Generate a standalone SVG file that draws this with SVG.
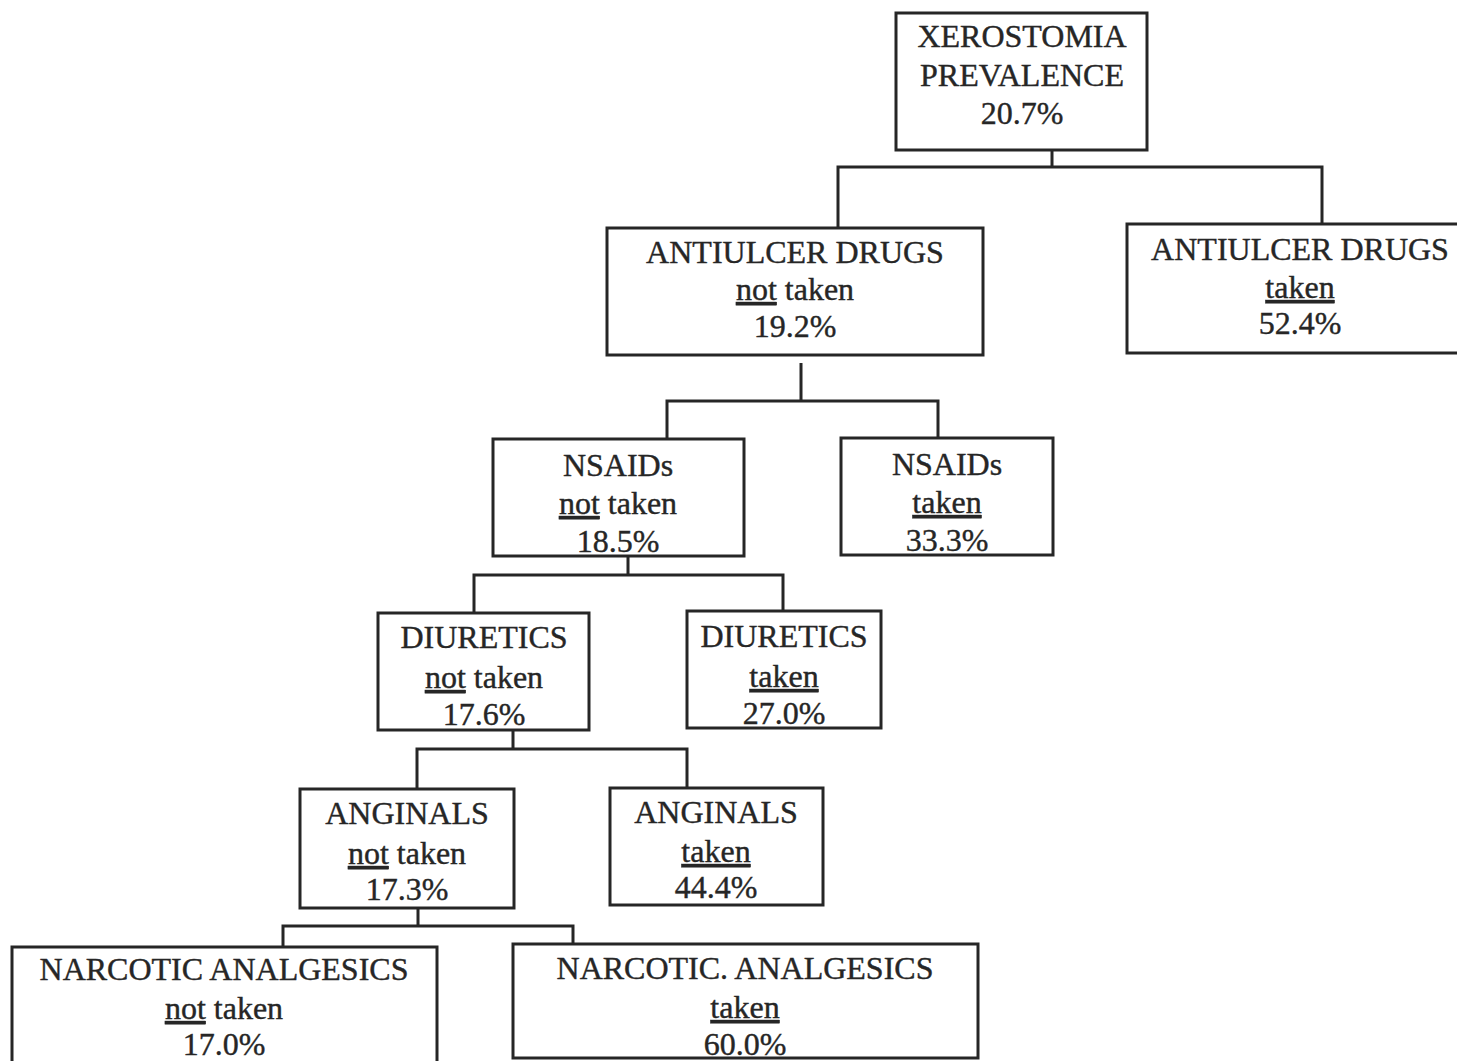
<svg xmlns="http://www.w3.org/2000/svg" width="1457" height="1061" viewBox="0 0 1457 1061">
  <style>
    .box { fill: #ffffff; stroke: #262626; stroke-width: 3; }
    .wire { fill: none; stroke: #262626; stroke-width: 3; stroke-linejoin: miter; }
    text { font-family: "Liberation Serif", "Times New Roman", serif; font-size: 32px; fill: #262626; stroke: #262626; stroke-width: 0.4; text-anchor: middle; }
    .u { text-decoration: underline; }
  </style>
  <rect width="1457" height="1061" fill="#ffffff"/>

  <!-- tree connectors -->
  <g id="connectors">
    <path class="wire" d="M1052,150 V167 M838,228 V167 H1322 V224"/>
    <path class="wire" d="M801,363 V401 M667,439 V401 H938 V438"/>
    <path class="wire" d="M628,556 V575 M474,613 V575 H783 V611"/>
    <path class="wire" d="M513,730 V749 M417,789 V749 H687 V788"/>
    <path class="wire" d="M418,908 V926 M283,947 V926 H573 V944"/>
  </g>

  <!-- root -->
  <g id="root">
    <rect class="box" x="896" y="13" width="251" height="137"/>
    <text x="1022" y="47">XEROSTOMIA</text>
    <text x="1022" y="86">PREVALENCE</text>
    <text x="1022" y="124">20.7%</text>
  </g>

  <!-- level 1 -->
  <g id="antiulcer-not-taken">
    <rect class="box" x="607" y="228" width="376" height="127"/>
    <text x="795" y="263">ANTIULCER DRUGS</text>
    <text x="795" y="300"><tspan class="u">not</tspan> taken</text>
    <text x="795" y="337">19.2%</text>
  </g>
  <g id="antiulcer-taken">
    <rect class="box" x="1127" y="224" width="340" height="129"/>
    <text x="1300" y="260">ANTIULCER DRUGS</text>
    <text x="1300" y="298"><tspan class="u">taken</tspan></text>
    <text x="1300" y="334">52.4%</text>
  </g>

  <!-- level 2 -->
  <g id="nsaids-not-taken">
    <rect class="box" x="493" y="439" width="251" height="117"/>
    <text x="618" y="476">NSAIDs</text>
    <text x="618" y="514"><tspan class="u">not</tspan> taken</text>
    <text x="618" y="552">18.5%</text>
  </g>
  <g id="nsaids-taken">
    <rect class="box" x="841" y="438" width="212" height="117"/>
    <text x="947" y="475">NSAIDs</text>
    <text x="947" y="513"><tspan class="u">taken</tspan></text>
    <text x="947" y="551">33.3%</text>
  </g>

  <!-- level 3 -->
  <g id="diuretics-not-taken">
    <rect class="box" x="378" y="613" width="211" height="117"/>
    <text x="484" y="648">DIURETICS</text>
    <text x="484" y="688"><tspan class="u">not</tspan> taken</text>
    <text x="484" y="725">17.6%</text>
  </g>
  <g id="diuretics-taken">
    <rect class="box" x="687" y="611" width="194" height="117"/>
    <text x="784" y="647">DIURETICS</text>
    <text x="784" y="687"><tspan class="u">taken</tspan></text>
    <text x="784" y="724">27.0%</text>
  </g>

  <!-- level 4 -->
  <g id="anginals-not-taken">
    <rect class="box" x="300" y="789" width="214" height="119"/>
    <text x="407" y="824">ANGINALS</text>
    <text x="407" y="864"><tspan class="u">not</tspan> taken</text>
    <text x="407" y="900">17.3%</text>
  </g>
  <g id="anginals-taken">
    <rect class="box" x="610" y="788" width="213" height="117"/>
    <text x="716" y="823">ANGINALS</text>
    <text x="716" y="862"><tspan class="u">taken</tspan></text>
    <text x="716" y="898">44.4%</text>
  </g>

  <!-- level 5 -->
  <g id="narcotic-not-taken">
    <rect class="box" x="12" y="947" width="425" height="130"/>
    <text x="224" y="980">NARCOTIC ANALGESICS</text>
    <text x="224" y="1019"><tspan class="u">not</tspan> taken</text>
    <text x="224" y="1055">17.0%</text>
  </g>
  <g id="narcotic-taken">
    <rect class="box" x="513" y="944" width="465" height="114"/>
    <text x="745" y="979">NARCOTIC. ANALGESICS</text>
    <text x="745" y="1018"><tspan class="u">taken</tspan></text>
    <text x="745" y="1055">60.0%</text>
  </g>
</svg>
